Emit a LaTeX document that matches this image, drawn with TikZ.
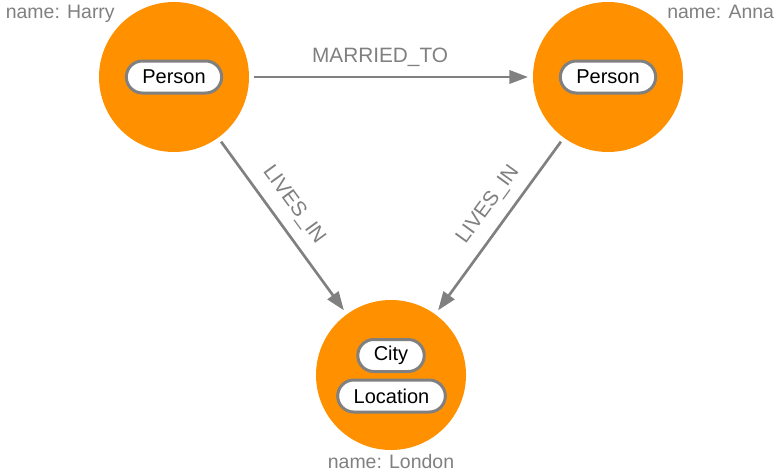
\documentclass[tikz,border=0pt]{standalone}
\usepackage{fontspec}
\setmainfont{Liberation Sans}
\usepackage{tikz}
\usetikzlibrary{arrows.meta}
\definecolor{nodeorange}{RGB}{255,145,0}
\definecolor{edgegray}{RGB}{128,128,128}

\begin{document}
\begin{tikzpicture}[x=0.75pt,y=0.75pt,
  entity/.style={circle,fill=nodeorange,minimum size=112.5pt,inner sep=0pt,outer sep=3.75pt},
  tag/.style={draw=edgegray,line width=2.25pt,fill=white,rounded corners=12pt,minimum height=24pt,inner xsep=12pt,inner ysep=0pt,font=\fontsize{15}{18}\selectfont},
  prop/.style={text=edgegray,inner sep=0pt,font=\fontsize{14.6}{18}\selectfont},
  rel/.style={draw=edgegray,line width=2pt,-{Triangle[length=14pt,width=10pt]}},
  rellabel/.style={text=edgegray,inner sep=2pt,font=\fontsize{15.6}{18}\selectfont}]
\useasboundingbox (0,0) rectangle (781,-475);
% nodes
\node[entity] (harry) at (174,-77) {};
\node[entity] (anna) at (608,-77) {};
\node[entity] (london) at (391,-375) {};
% labels inside
\node[tag] (harrytag) at (harry) {Person};
\node[tag] (annatag) at (anna) {Person};
\node[tag] (citytag) at (391,-355.5) {City};
\node[tag] (locationtag) at (391.5,-396) {Location};
% properties
\node[prop,anchor=base east] (harryname) at (115,-18) {name: Harry};
\node[prop,anchor=base west] (annaname) at (667,-18) {name: Anna};
\node[prop,anchor=base] (londonname) at (391,-468) {name: London};
% relationships
\draw[rel] (harry) -- node[rellabel,above=5pt,pos=0.46] (marriedlabel) {MARRIED\_TO} (anna);
\draw[rel] (harry) -- node[rellabel,sloped,above=6pt,pos=0.45] (harrylives) {LIVES\_IN} (london);
\draw[rel] (anna) -- node[rellabel,sloped,above=6pt,pos=0.45] (annalives) {LIVES\_IN} (london);
\end{tikzpicture}
\end{document}
